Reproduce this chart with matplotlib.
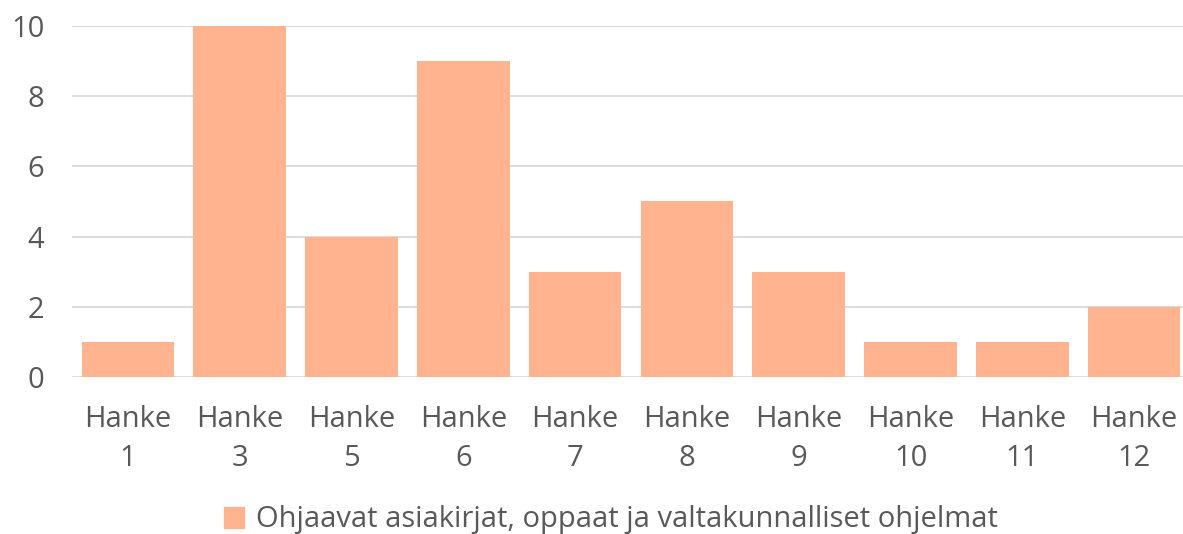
import matplotlib
matplotlib.use("Agg")
import matplotlib.pyplot as plt
from matplotlib.patches import Patch

categories = ["Hanke\n1", "Hanke\n3", "Hanke\n5", "Hanke\n6", "Hanke\n7",
              "Hanke\n8", "Hanke\n9", "Hanke\n10", "Hanke\n11", "Hanke\n12"]
values = [1, 10, 4, 9, 3, 5, 3, 1, 1, 2]
series_name = "Ohjaavat asiakirjat, oppaat ja valtakunnalliset ohjelmat"
yticks = [0, 2, 4, 6, 8, 10]

plt.rcParams['font.family'] = ['Open Sans', 'DejaVu Sans']
text_color = "#595959"
bar_color = "#FFB38E"

W, H = 1183, 534
fig = plt.figure(figsize=(W / 100, H / 100), dpi=100)
ax = fig.add_axes([72 / W, (H - 377) / H, 1118 / W, (377 - 26) / H])

x = range(len(categories))
ax.bar(x, values, width=0.83, color=bar_color, zorder=3)
ax.set_xlim(-0.5, len(categories) - 0.5)
ax.set_ylim(0, 10)
ax.set_yticks(yticks)
ax.set_xticks(list(x))
ax.set_xticklabels(categories, fontsize=21, color=text_color, linespacing=1.48)
ax.tick_params(axis='y', labelsize=21, labelcolor=text_color, length=0, pad=20)
ax.tick_params(axis='x', length=0, pad=20)
ax.grid(axis='y', color="#D9D9D9", linewidth=1.3, zorder=0)
for s in ax.spines.values():
    s.set_visible(False)

fig.legend(handles=[Patch(color=bar_color, label=series_name)],
           loc='center', bbox_to_anchor=(611 / W, (H - 520) / H),
           frameon=False, fontsize=21, labelcolor=text_color,
           handlelength=0.7, handleheight=0.7, handletextpad=0.4)

fig.savefig("out.png", dpi=100)
